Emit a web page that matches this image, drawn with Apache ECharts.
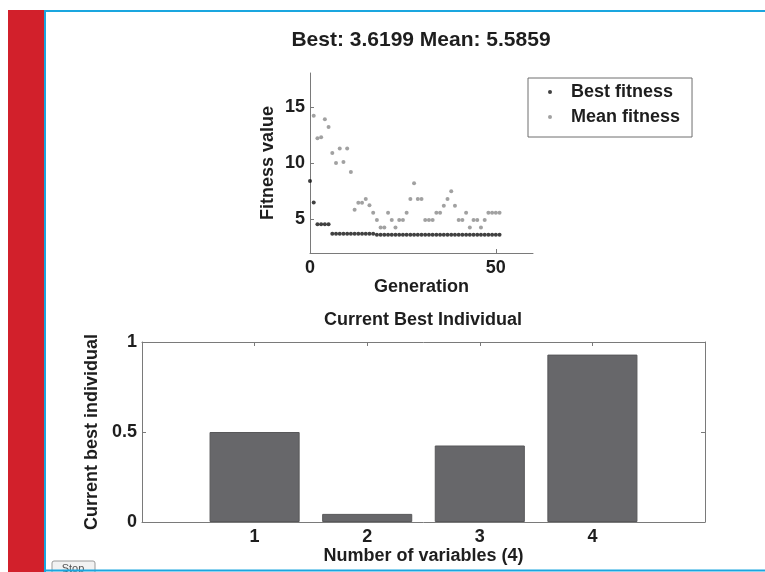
<!DOCTYPE html>
<html>
<head>
<meta charset="utf-8">
<script src="https://cdn.jsdelivr.net/npm/echarts@6/dist/echarts.min.js"></script>
<style>
  html, body { margin: 0; padding: 0; background: #fff; }
  #chart { width: 765px; height: 572px; }
</style>
</head>
<body>
<div id="chart"></div>
<script>
// generations of the GA run
const generations = [0, 1, 2, 3, 4, 5, 6, 7, 8, 9, 10, 11, 12, 13, 14, 15, 16, 17, 18, 19, 20,
  21, 22, 23, 24, 25, 26, 27, 28, 29, 30, 31, 32, 33, 34, 35, 36, 37, 38, 39, 40,
  41, 42, 43, 44, 45, 46, 47, 48, 49, 50, 51];
const bestFitness = [8.4, 6.5, 4.55, 4.55, 4.55, 4.55, 3.72, 3.72, 3.72, 3.72, 3.72,
  3.72, 3.72, 3.72, 3.72, 3.72, 3.72, 3.72, 3.6199, 3.6199, 3.6199,
  3.6199, 3.6199, 3.6199, 3.6199, 3.6199, 3.6199, 3.6199, 3.6199, 3.6199, 3.6199,
  3.6199, 3.6199, 3.6199, 3.6199, 3.6199, 3.6199, 3.6199, 3.6199, 3.6199, 3.6199,
  3.6199, 3.6199, 3.6199, 3.6199, 3.6199, 3.6199, 3.6199, 3.6199, 3.6199, 3.6199, 3.6199];
const meanFitness = [null, 14.2, 12.2, 12.3, 13.9, 13.2, 10.9, 10.0, 11.3, 10.1, 11.3,
  9.2, 5.85, 6.46, 6.46, 6.8, 6.25, 5.586, 4.93, 4.27, 4.27,
  5.586, 4.93, 4.27, 4.93, 4.93, 5.586, 6.8, 8.2, 6.8, 6.8,
  4.93, 4.93, 4.93, 5.586, 5.586, 6.2, 6.8, 7.5, 6.2, 4.93,
  4.93, 5.586, 4.27, 4.93, 4.93, 4.27, 4.93, 5.586, 5.586, 5.586, 5.5859];

// current best individual
const variables = [1, 2, 3, 4];
const individual = [0.5, 0.045, 0.425, 0.93];

const genTicks = [0, 50];
const fitTicks = [5, 10, 15];
const varTicks = [1, 2, 3, 4];
const indTicks = [0, 0.5, 1];

const FONT = 'Liberation Sans, Arial, sans-serif';
const textDark = '#1e1e1e';
const axisGray = '#7a7a7a';

const myChart = echarts.init(document.getElementById('chart'));

const labelStyle = { color: textDark, fontFamily: FONT, fontWeight: 'bold', fontSize: 18 };
const nameStyle = { color: textDark, fontFamily: FONT, fontWeight: 'bold', fontSize: 18 };

const botGrid = { left: 142, top: 342, right: 60, bottom: 50 };
const barWidth = (765 - botGrid.left - botGrid.right) / 5 * 0.8;

const option = {
  animation: false,
  backgroundColor: '#fff',
  graphic: [
    { type: 'rect', shape: { x: 8, y: 10, width: 36, height: 562 }, style: { fill: '#d2202b' }, z: 0 },
    { type: 'rect', shape: { x: 52, y: 561, width: 43, height: 14, r: 2 },
      style: { fill: '#f2f2f2', stroke: '#9a9a9a', lineWidth: 1 }, z: 1 },
    { type: 'text', x: 73, y: 569, style: { text: 'Stop', fill: '#555', font: '11px ' + FONT, align: 'center', verticalAlign: 'middle' }, z: 2 },
    { type: 'line', shape: { x1: 44, y1: 11, x2: 765, y2: 11 }, style: { stroke: '#1aa6df', lineWidth: 2 }, z: 3 },
    { type: 'line', shape: { x1: 45, y1: 10, x2: 45, y2: 572 }, style: { stroke: '#1aa6df', lineWidth: 2 }, z: 3 },
    { type: 'line', shape: { x1: 45, y1: 570.5, x2: 765, y2: 570.5 }, style: { stroke: '#1aa6df', lineWidth: 2 }, z: 3 },
    { type: 'text', x: 421, y: 40, style: { text: 'Best: 3.6199 Mean: 5.5859', fill: textDark,
      font: 'bold 21px ' + FONT, align: 'center', verticalAlign: 'middle' } },
    { type: 'text', x: 423, y: 320, style: { text: 'Current Best Individual', fill: textDark,
      font: 'bold 18px ' + FONT, align: 'center', verticalAlign: 'middle' } }
  ],
  legend: {
    data: ['Best fitness', 'Mean fitness'],
    orient: 'vertical',
    left: 528,
    top: 78,
    icon: 'circle',
    itemWidth: 4,
    itemHeight: 4,
    itemGap: 5,
    padding: [4, 12, 10, 20],
    borderColor: '#6e6e6e',
    borderWidth: 1,
    textStyle: { color: textDark, fontFamily: FONT, fontWeight: 'bold', fontSize: 18, lineHeight: 20, padding: [0, 0, 0, 14] }
  },
  grid: [
    { left: 310, top: 73, right: 232, bottom: 319 },
    botGrid
  ],
  xAxis: [
    {
      gridIndex: 0, type: 'value', min: 0, max: 60,
      name: 'Generation', nameLocation: 'middle', nameGap: 18, nameTextStyle: nameStyle,
      axisLine: { onZero: false, lineStyle: { color: axisGray, width: 1 } },
      axisTick: { inside: true, length: 4, customValues: genTicks, lineStyle: { color: axisGray } },
      axisLabel: { customValues: genTicks, margin: 6, ...labelStyle },
      splitLine: { show: false }
    },
    {
      gridIndex: 1, type: 'value', min: 0, max: 5,
      name: 'Number of variables (4)', nameLocation: 'middle', nameGap: 24, nameTextStyle: nameStyle,
      axisLine: { onZero: false, lineStyle: { color: axisGray, width: 1 } },
      axisTick: { inside: true, length: 4, customValues: varTicks, lineStyle: { color: axisGray } },
      axisLabel: { customValues: varTicks, margin: 6, ...labelStyle },
      splitLine: { show: false }
    },
    {
      gridIndex: 1, type: 'value', min: 0, max: 5, position: 'top',
      axisLine: { onZero: false, lineStyle: { color: axisGray, width: 1 } },
      axisTick: { inside: true, length: 4, customValues: varTicks, lineStyle: { color: axisGray } },
      axisLabel: { show: false },
      splitLine: { show: false }
    }
  ],
  yAxis: [
    {
      gridIndex: 0, type: 'value', min: 2, max: 18,
      name: 'Fitness value', nameLocation: 'middle', nameGap: 33, nameTextStyle: nameStyle,
      axisLine: { show: true, onZero: false, lineStyle: { color: axisGray, width: 1 } },
      axisTick: { show: true, inside: true, length: 4, customValues: fitTicks, lineStyle: { color: axisGray } },
      axisLabel: { customValues: fitTicks, margin: 5, ...labelStyle },
      splitLine: { show: false }
    },
    {
      gridIndex: 1, type: 'value', min: 0, max: 1,
      name: 'Current best individual', nameLocation: 'middle', nameGap: 39, nameTextStyle: nameStyle,
      axisLine: { show: true, onZero: false, lineStyle: { color: axisGray, width: 1 } },
      axisTick: { show: true, inside: true, length: 4, customValues: indTicks, lineStyle: { color: axisGray } },
      axisLabel: { customValues: indTicks, margin: 5, ...labelStyle },
      splitLine: { show: false }
    },
    {
      gridIndex: 1, type: 'value', min: 0, max: 1, position: 'right',
      axisLine: { show: true, onZero: false, lineStyle: { color: axisGray, width: 1 } },
      axisTick: { show: true, inside: true, length: 4, customValues: indTicks, lineStyle: { color: axisGray } },
      axisLabel: { show: false },
      splitLine: { show: false }
    }
  ],
  series: [
    {
      name: 'Best fitness', type: 'scatter', xAxisIndex: 0, yAxisIndex: 0,
      symbol: 'circle', symbolSize: 4,
      itemStyle: { color: '#111' },
      data: generations.map((g, i) => [g, bestFitness[i]]),
      z: 3
    },
    {
      name: 'Mean fitness', type: 'scatter', xAxisIndex: 0, yAxisIndex: 0,
      symbol: 'circle', symbolSize: 4,
      itemStyle: { color: '#8a8a8a' },
      data: generations.map((g, i) => [g, meanFitness[i]]).filter(d => d[1] != null),
      z: 2
    },
    {
      type: 'bar', xAxisIndex: 1, yAxisIndex: 1,
      barWidth: barWidth,
      itemStyle: { color: '#67676a', borderColor: '#58585a', borderWidth: 1 },
      data: variables.map((v, i) => [v, individual[i]])
    }
  ]
};

option && myChart.setOption(option);
</script>
</body>
</html>
